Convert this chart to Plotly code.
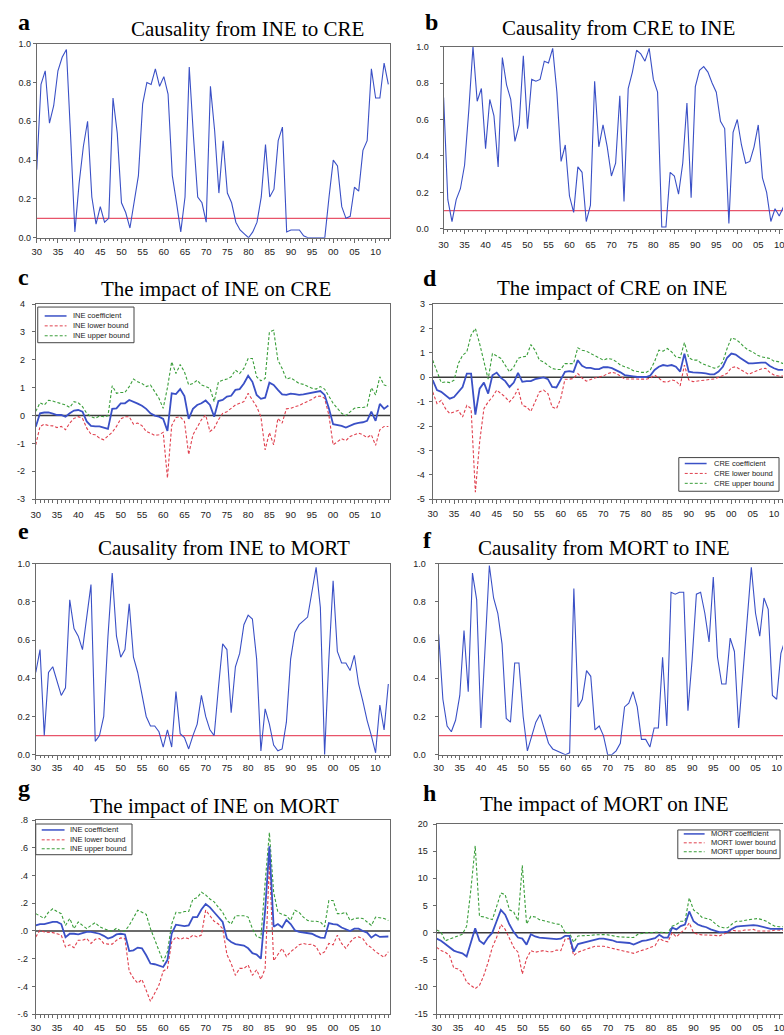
import plotly.graph_objects as go

W, H = 784, 1035

# ---------------- data ----------------
years = list(range(1930, 2014))
x_tick_vals = list(range(1930, 2011, 5))
x_tick_text = ["30", "35", "40", "45", "50", "55", "60", "65", "70", "75",
               "80", "85", "90", "95", "00", "05", "10"]

prob_tick_vals = [0.0, 0.2, 0.4, 0.6, 0.8, 1.0]
prob_tick_text = ["0.0", "0.2", "0.4", "0.6", "0.8", "1.0"]
c_tick_vals = [-3, -2, -1, 0, 1, 2, 3, 4]
c_tick_text = ["-3", "-2", "-1", "0", "1", "2", "3", "4"]
d_tick_vals = [-5, -4, -3, -2, -1, 0, 1, 2, 3]
d_tick_text = ["-5", "-4", "-3", "-2", "-1", "0", "1", "2", "3"]
g_tick_vals = [-0.6, -0.4, -0.2, 0.0, 0.2, 0.4, 0.6, 0.8]
g_tick_text = ["-.6", "-.4", "-.2", ".0", ".2", ".4", ".6", ".8"]
h_tick_vals = [-15, -10, -5, 0, 5, 10, 15, 20]
h_tick_text = ["-15", "-10", "-5", "0", "5", "10", "15", "20"]

significance_level = 0.1

# (a) causality INE -> CRE (p-values)
p_ine_to_cre = [
    0.35, 0.79, 0.86, 0.59, 0.68, 0.86, 0.93, 0.97, 0.52, 0.03,
    0.28, 0.47, 0.60, 0.21, 0.07, 0.16, 0.08, 0.10, 0.72, 0.54,
    0.18, 0.13, 0.05, 0.18, 0.32, 0.69, 0.80, 0.79, 0.87, 0.78,
    0.83, 0.74, 0.32, 0.18, 0.03, 0.21, 0.88, 0.52, 0.21, 0.18,
    0.08, 0.78, 0.55, 0.23, 0.50, 0.23, 0.18, 0.08, 0.04, 0.02,
    0.00, 0.03, 0.08, 0.21, 0.48, 0.21, 0.25, 0.50, 0.57, 0.03,
    0.04, 0.04, 0.04, 0.01, 0.00, 0.00, 0.00, 0.00, 0.00, 0.21,
    0.40, 0.37, 0.16, 0.10, 0.11, 0.26, 0.24, 0.45, 0.50, 0.87,
    0.72, 0.72, 0.90, 0.79]

# (b) causality CRE -> INE
p_cre_to_ine = [
    0.72, 0.16, 0.04, 0.16, 0.22, 0.35, 0.65, 1.00, 0.70, 0.77,
    0.44, 0.71, 0.62, 0.34, 0.94, 0.79, 0.71, 0.48, 0.57, 0.95,
    0.55, 0.82, 0.81, 0.82, 0.92, 0.91, 0.99, 0.75, 0.37, 0.46,
    0.18, 0.09, 0.34, 0.31, 0.04, 0.13, 0.81, 0.45, 0.57, 0.45,
    0.29, 0.36, 0.73, 0.15, 0.77, 0.86, 0.98, 0.96, 0.92, 0.99,
    0.82, 0.75, 0.01, 0.01, 0.31, 0.29, 0.19, 0.36, 0.69, 0.17,
    0.78, 0.87, 0.89, 0.86, 0.80, 0.75, 0.59, 0.55, 0.03, 0.53,
    0.60, 0.46, 0.36, 0.37, 0.45, 0.57, 0.28, 0.20, 0.04, 0.11,
    0.07, 0.12, 0.10, 0.10]

# (c) impact of INE on CRE
c_coef = [
    -0.40, 0.08, 0.11, 0.11, 0.07, 0.02, 0.02, -0.04, 0.08, 0.18,
    0.20, 0.14, -0.21, -0.37, -0.39, -0.39, -0.43, -0.48, 0.24, 0.26,
    0.44, 0.44, 0.56, 0.50, 0.43, 0.35, 0.24, 0.08, 0.00, -0.04,
    -0.12, -0.55, 0.80, 0.77, 0.95, 0.70, -0.12, 0.24, 0.38, 0.44,
    0.54, 0.38, -0.04, 0.52, 0.56, 0.68, 0.71, 0.92, 0.95, 1.15,
    1.43, 1.21, 0.74, 0.60, 0.64, 1.18, 1.10, 0.92, 0.76, 0.74,
    0.79, 0.77, 0.74, 0.76, 0.79, 0.81, 0.86, 0.88, 0.74, 0.26,
    -0.31, -0.33, -0.37, -0.43, -0.36, -0.30, -0.26, -0.24, -0.19, 0.14,
    -0.19, 0.42, 0.24, 0.36]
c_lower = [
    -1.05, -0.39, -0.31, -0.36, -0.37, -0.43, -0.39, -0.51, -0.27, -0.10,
    -0.04, -0.10, -0.45, -0.67, -0.69, -0.81, -0.87, -0.75, -0.60, -0.39,
    -0.12, -0.04, -0.04, -0.31, -0.27, -0.36, -0.57, -0.63, -0.71, -0.69,
    -0.60, -2.24, -0.36, -0.07, -0.04, -0.21, -1.40, -0.69, -0.39, -0.15,
    0.02, -0.57, -0.45, -0.15, 0.08, 0.14, 0.26, 0.38, 0.44, 0.50,
    0.80, 0.56, 0.32, -0.04, -1.23, -0.61, -1.05, -0.10, -0.27, 0.24,
    0.26, 0.32, 0.36, 0.44, 0.50, 0.58, 0.68, 0.70, 0.62, 0.02,
    -1.05, -0.93, -0.83, -0.90, -0.75, -0.69, -0.63, -0.69, -0.79, -0.69,
    -1.07, -0.51, -0.39, -0.39]
c_upper = [
    0.15, 0.46, 0.38, 0.55, 0.52, 0.48, 0.44, 0.38, 0.29, 0.50,
    0.46, 0.32, 0.08, -0.04, -0.10, -0.02, -0.04, -0.01, 1.07, 0.80,
    0.83, 0.83, 1.04, 1.31, 1.21, 1.15, 1.04, 1.10, 0.86, 0.62,
    0.26, 1.00, 1.93, 1.51, 1.83, 1.57, 1.10, 1.15, 1.27, 1.10,
    1.04, 0.98, 0.50, 1.21, 1.27, 1.31, 1.39, 1.63, 1.51, 1.69,
    2.05, 2.05, 1.39, 1.25, 1.33, 3.00, 3.06, 1.99, 1.69, 1.31,
    1.36, 1.26, 1.15, 1.12, 1.04, 0.98, 0.95, 1.04, 0.95, 0.68,
    0.44, 0.26, 0.08, 0.00, 0.14, 0.26, 0.29, 0.29, 0.32, 1.00,
    0.74, 1.39, 1.10, 1.04]

# (d) impact of CRE on INE
d_coef = [
    -0.12, -0.53, -0.60, -0.74, -0.88, -0.81, -0.58, -0.40, 0.15, 0.15,
    -1.53, -0.47, -0.22, -0.67, 0.08, 0.19, -0.03, -0.16, -0.40, -0.22,
    0.18, -0.19, -0.16, -0.16, -0.08, -0.03, -0.01, -0.08, -0.40, -0.42,
    -0.12, 0.22, 0.25, 0.22, 0.70, 0.47, 0.38, 0.38, 0.33, 0.33,
    0.41, 0.41, 0.37, 0.30, 0.20, 0.09, 0.05, 0.04, 0.01, 0.01,
    0.01, 0.07, 0.30, 0.43, 0.50, 0.47, 0.50, 0.43, 0.23, 0.97,
    0.23, 0.20, 0.20, 0.18, 0.16, 0.12, 0.12, 0.23, 0.43, 0.80,
    0.97, 0.93, 0.80, 0.70, 0.57, 0.57, 0.60, 0.60, 0.60, 0.46,
    0.37, 0.30, 0.30, 0.30]
d_lower = [
    -0.60, -1.08, -0.95, -1.29, -1.49, -1.42, -1.36, -1.63, -1.15, -1.29,
    -4.71, -2.66, -1.29, -1.01, -0.81, -0.53, -0.67, -0.81, -1.01, -0.81,
    -0.47, -1.15, -1.22, -1.40, -1.01, -0.60, -0.53, -0.67, -1.22, -1.29,
    -0.88, -0.08, -0.08, -0.05, 0.15, -0.03, -0.16, -0.08, -0.03, 0.01,
    0.05, 0.15, 0.20, 0.16, 0.03, -0.07, -0.07, -0.07, -0.08, -0.08,
    -0.08, -0.04, 0.09, -0.04, -0.18, -0.20, -0.11, -0.15, -0.35, 0.50,
    -0.11, -0.18, -0.15, -0.12, -0.11, -0.09, -0.07, -0.01, 0.07, 0.16,
    0.39, 0.43, 0.34, 0.23, 0.12, 0.20, 0.26, 0.34, 0.37, 0.20,
    0.09, 0.05, 0.05, 0.05]
d_upper = [
    0.70, 0.22, -0.22, -0.19, -0.22, -0.12, 0.56, 0.90, 1.04, 1.73,
    2.00, 1.38, 0.70, -0.08, 0.97, 0.86, 0.77, 0.49, 0.22, 0.42,
    0.77, 0.84, 0.86, 1.34, 1.11, 0.70, 0.63, 0.49, 0.36, 0.32,
    0.32, 0.56, 0.56, 0.56, 1.21, 1.11, 1.07, 0.97, 0.90, 0.77,
    0.70, 0.77, 0.74, 0.64, 0.50, 0.43, 0.37, 0.27, 0.23, 0.20,
    0.20, 0.30, 0.64, 1.11, 1.07, 1.18, 1.04, 0.84, 0.80, 1.42,
    0.80, 0.70, 0.70, 0.57, 0.50, 0.43, 0.37, 0.43, 0.64, 1.18,
    1.61, 1.56, 1.42, 1.24, 1.11, 1.04, 0.91, 0.84, 0.80, 0.77,
    0.66, 0.64, 0.57, 0.55]

# (e) causality INE -> MORT
p_ine_to_mort = [
    0.43, 0.55, 0.10, 0.43, 0.46, 0.39, 0.31, 0.35, 0.81, 0.66,
    0.62, 0.55, 0.72, 0.89, 0.07, 0.10, 0.20, 0.62, 0.95, 0.62,
    0.51, 0.55, 0.79, 0.51, 0.43, 0.31, 0.20, 0.15, 0.15, 0.12,
    0.04, 0.13, 0.04, 0.33, 0.11, 0.09, 0.03, 0.10, 0.16, 0.31,
    0.20, 0.13, 0.10, 0.35, 0.58, 0.55, 0.22, 0.46, 0.53, 0.68,
    0.73, 0.71, 0.50, 0.02, 0.24, 0.16, 0.05, 0.02, 0.03, 0.17,
    0.50, 0.64, 0.68, 0.70, 0.72, 0.85, 0.98, 0.77, 0.00, 0.50,
    0.91, 0.54, 0.48, 0.48, 0.44, 0.52, 0.37, 0.28, 0.18, 0.10,
    0.01, 0.26, 0.13, 0.37]

# (f) causality MORT -> INE
p_mort_to_ine = [
    0.63, 0.29, 0.15, 0.12, 0.18, 0.31, 0.65, 0.33, 0.95, 0.81,
    0.14, 0.58, 0.99, 0.82, 0.74, 0.58, 0.19, 0.17, 0.48, 0.48,
    0.20, 0.02, 0.10, 0.17, 0.21, 0.13, 0.06, 0.03, 0.02, 0.01,
    0.00, 0.01, 0.87, 0.25, 0.29, 0.44, 0.41, 0.13, 0.15, 0.10,
    0.00, 0.00, 0.02, 0.06, 0.25, 0.27, 0.33, 0.25, 0.08, 0.08,
    0.04, 0.14, 0.14, 0.51, 0.15, 0.85, 0.84, 0.85, 0.85, 0.23,
    0.50, 0.84, 0.85, 0.74, 0.59, 0.93, 0.51, 0.37, 0.37, 0.61,
    0.54, 0.14, 0.43, 0.72, 0.98, 0.74, 0.62, 0.82, 0.76, 0.31,
    0.29, 0.53, 0.60, 0.60]

# (g) impact of INE on MORT
g_coef = [
    0.04, 0.05, 0.05, 0.06, 0.065, 0.065, 0.05, -0.045, -0.02, -0.02,
    -0.025, -0.015, -0.007, -0.007, -0.015, -0.02, -0.035, -0.055, -0.045, -0.025,
    -0.02, -0.025, -0.145, -0.14, -0.12, -0.125, -0.175, -0.235, -0.24, -0.25,
    -0.26, -0.21, -0.02, 0.045, 0.04, 0.035, 0.04, 0.10, 0.10, 0.155,
    0.195, 0.17, 0.135, 0.10, 0.065, -0.055, -0.08, -0.095, -0.10, -0.105,
    -0.125, -0.16, -0.17, -0.20, 0.15, 0.61, 0.03, 0.05, 0.025, 0.08,
    0.05, 0.005, -0.007, -0.012, -0.015, -0.02, -0.035, -0.048, -0.05, 0.057,
    0.05, 0.045, 0.025, 0.01, 0.0, 0.017, 0.017, 0.0, -0.012, -0.048,
    -0.026, -0.043, -0.04, -0.04]
g_lower = [
    -0.043, 0.005, -0.007, -0.007, -0.012, -0.02, -0.03, -0.115, -0.10, -0.12,
    -0.067, -0.067, -0.055, -0.09, -0.06, -0.055, -0.09, -0.095, -0.095, -0.067,
    -0.05, -0.055, -0.29, -0.34, -0.376, -0.35, -0.435, -0.507, -0.45, -0.39,
    -0.29, -0.27, -0.08, -0.043, -0.062, -0.048, -0.055, -0.03, -0.043, -0.03,
    0.15, 0.11, 0.07, 0.05, 0.017, -0.17, -0.235, -0.32, -0.27, -0.27,
    -0.245, -0.32, -0.28, -0.35, -0.27, 0.49, -0.215, -0.17, -0.126, -0.185,
    -0.15, -0.126, -0.10, -0.09, -0.098, -0.095, -0.114, -0.17, -0.15, -0.09,
    -0.10, -0.03, -0.09, -0.126, -0.08, -0.05, -0.043, -0.055, -0.10, -0.12,
    -0.15, -0.17, -0.19, -0.15]
g_upper = [
    0.125, 0.11, 0.09, 0.135, 0.16, 0.14, 0.125, 0.04, 0.09, 0.017,
    0.065, 0.04, 0.017, 0.04, 0.06, 0.03, 0.017, 0.005, -0.002, 0.02,
    0.0, 0.0, 0.04, 0.09, 0.15, 0.135, 0.12, 0.017, -0.067, -0.15,
    -0.22, -0.15, 0.05, 0.135, 0.13, 0.14, 0.14, 0.23, 0.24, 0.28,
    0.26, 0.23, 0.21, 0.17, 0.135, 0.076, 0.05, 0.11, 0.11, 0.11,
    0.10, 0.017, -0.04, -0.05, 0.35, 0.71, 0.28, 0.135, 0.12, 0.11,
    0.076, 0.15, 0.135, 0.10, 0.076, 0.07, 0.07, 0.065, 0.03, 0.22,
    0.22, 0.125, 0.125, 0.135, 0.076, 0.09, 0.093, 0.09, 0.065, 0.04,
    0.10, 0.095, 0.09, 0.076]

# (h) impact of MORT on INE
h_coef = [
    -1.1, -1.5, -2.1, -2.7, -3.3, -3.6, -3.8, -4.4, -2.0, 0.8,
    -1.5, -2.1, -0.9, 0.0, 2.1, 4.2, 3.3, 1.5, 0.1, -0.9,
    -1.1, -2.2, -0.3, -0.7, -0.9, -1.0, -1.1, -1.2, -1.2, -1.1,
    -0.6, -0.6, -3.5, -2.1, -1.9, -1.6, -1.4, -1.2, -1.1, -1.1,
    -1.2, -1.4, -1.7, -1.8, -1.8, -1.9, -2.2, -1.8, -1.5, -1.4,
    -1.2, -1.0, -0.4, -0.9, -0.9, 0.9, 0.6, 1.2, 1.5, 3.9,
    2.1, 1.5, 1.2, 1.0, 0.6, 0.3, 0.1, 0.1, 0.2, 0.7,
    1.1, 1.2, 1.3, 1.4, 1.4, 1.3, 1.1, 0.9, 0.7, 0.7,
    0.7, 0.7, 0.7, 0.7]
h_lower = [
    -2.7, -3.3, -3.6, -4.2, -6.5, -6.7, -7.3, -9.1, -9.7, -10.3,
    -9.7, -7.9, -5.5, -2.7, -0.9, 1.5, 0.6, -1.2, -2.7, -3.6,
    -7.6, -4.8, -3.3, -3.6, -3.5, -3.3, -3.5, -3.5, -3.2, -3.3,
    -1.2, -1.1, -4.2, -3.6, -3.3, -3.0, -2.7, -2.5, -2.5, -2.5,
    -2.7, -2.9, -3.0, -3.3, -3.5, -3.6, -3.8, -3.5, -3.3, -3.0,
    -2.7, -2.4, -1.1, -1.5, -1.7, 0.0, -0.8, 0.0, 0.6, 1.8,
    0.0, -0.3, -0.4, -0.4, -0.5, -0.5, -0.6, -0.3, 0.0, 0.5,
    0.3, 0.3, 0.5, 0.5, 0.6, 0.3, 0.3, 0.3, 0.3, 0.5,
    0.5, 0.4, 0.4, 0.4]
h_upper = [
    0.5, 0.1, -1.5, -1.2, -0.9, -0.6, -0.3, 1.2, 8.0, 16.0,
    3.0, 2.9, 2.6, 2.4, 4.8, 7.3, 7.0, 4.2, 3.8, 2.2,
    12.4, 1.6, 3.0, 2.9, 2.4, 2.2, 1.9, 1.8, 1.6, 1.5,
    0.0, 0.0, -1.8, -0.6, -0.6, -0.6, -0.5, -0.4, -0.35, -0.35,
    -0.4, -0.6, -0.7, -0.8, -0.8, -0.8, -0.9, -0.3, -0.1, 0.0,
    0.0, 0.1, 0.1, 0.0, 0.0, 1.2, 1.5, 2.1, 2.1, 6.4,
    4.2, 3.6, 2.8, 2.6, 2.4, 1.7, 1.1, 0.9, 0.9, 1.6,
    2.1, 2.1, 2.3, 2.4, 2.5, 2.6, 2.4, 2.1, 1.6, 1.2,
    1.1, 1.1, 1.1, 1.1]

# ---------------- styling ----------------
BLUE = "#3a50c6"
RED = "#e0404e"
GREEN = "#3a9e3a"
THRESH = "#e8546a"
FRAME = "#6a6a6a"
TXT = "#222222"
SERIF = "Liberation Serif, Times New Roman, serif"
SANS = "Liberation Sans, Arial, sans-serif"

# panel geometry in pixels: (x0, x1, ytop, ybottom)
panels = [
    dict(letter="a", title="Causality from INE to CRE", box=(32, 388, 39, 235), xend=2013.4,
         kind="p", series=p_ine_to_cre, yr=[0, 1], tv=prob_tick_vals, tt=prob_tick_text,
         letter_xy=(19, 24), title_xy=(244, 31), standoff=0, xstand=1),
    dict(letter="b", title="Causality from CRE to INE", box=(442, 784, 42, 226), xend=2010.9,
         kind="p", series=p_cre_to_ine, yr=[0, 1], tv=prob_tick_vals, tt=prob_tick_text,
         letter_xy=(430, 24), title_xy=(618, 30), standoff=9, xstand=3),
    dict(letter="c", title="The impact of INE on CRE", box=(31, 388, 302, 499), xend=2013.4,
         kind="i", series=(c_coef, c_lower, c_upper), prefix="INE", yr=[-3, 4],
         tv=c_tick_vals, tt=c_tick_text, letter_xy=(19, 282), title_xy=(213, 293), standoff=5,
         xstand=2,
         legend=dict(box=(33, 305, 130, 341), rows=(314, 324, 334), sx=(40, 62), tx=67)),
    dict(letter="d", title="The impact of CRE on INE", box=(431, 784, 302, 499), xend=2012.1,
         kind="i", series=(d_coef, d_lower, d_upper), prefix="CRE", yr=[-5, 3],
         tv=d_tick_vals, tt=d_tick_text, letter_xy=(428, 283), title_xy=(612, 292), standoff=2,
         xstand=1,
         legend=dict(box=(679, 457, 780, 491), rows=(463, 473, 483), sx=(685, 707), tx=712)),
    dict(letter="e", title="Causality from INE to MORT", box=(31, 388, 564, 757), xend=2013.4,
         kind="p", series=p_ine_to_mort, yr=[0, 1], tv=prob_tick_vals, tt=prob_tick_text,
         letter_xy=(19, 538), title_xy=(221, 555), standoff=0, xstand=0),
    dict(letter="f", title="Causality from MORT to INE", box=(437, 784, 564, 757), xend=2011.5,
         kind="p", series=p_mort_to_ine, yr=[0, 1], tv=prob_tick_vals, tt=prob_tick_text,
         letter_xy=(426, 547), title_xy=(604, 555), standoff=7, xstand=0),
    dict(letter="g", title="The impact of INE on MORT", box=(31, 388, 823, 1019), xend=2013.4,
         kind="i", series=(g_coef, g_lower, g_upper), prefix="INE", yr=[-0.6, 0.8],
         tv=g_tick_vals, tt=g_tick_text, letter_xy=(19, 798), title_xy=(211, 815), standoff=2,
         xstand=0,
         legend=dict(box=(31, 827, 128, 858), rows=(833, 843, 852), sx=(37, 60), tx=63)),
    dict(letter="h", title="The impact of MORT on INE", box=(435, 784, 827, 1019), xend=2010.9,
         kind="i", series=(h_coef, h_lower, h_upper), prefix="MORT", yr=[-15, 20],
         tv=h_tick_vals, tt=h_tick_text, letter_xy=(428, 803), title_xy=(604, 813), standoff=3,
         xstand=0,
         legend=dict(box=(678, 833, 781, 862), rows=(837, 846, 855), sx=(684, 705), tx=709)),
]


def px_x(x):
    return x / W


def px_y(y):
    return 1 - y / H


fig = go.Figure()
layout = dict(width=W, height=H, margin=dict(l=0, r=0, t=0, b=0),
              paper_bgcolor="white", plot_bgcolor="white", showlegend=False)
shapes = []
annotations = []

for i, p in enumerate(panels):
    n = i + 1
    sfx = "" if n == 1 else str(n)
    xref, yref = "x" + sfx, "y" + sfx
    x0, x1, yt, yb = p["box"]
    right_col = x1 >= W
    layout["xaxis" + sfx] = dict(
        domain=[px_x(x0), px_x(x1)], range=[1930, p["xend"]], anchor=yref,
        tickmode="array", tickvals=x_tick_vals, ticktext=x_tick_text,
        ticks="outside", ticklen=4, tickwidth=1, tickcolor=FRAME,
        ticklabelstandoff=p["xstand"], ticklabeloverflow="allow",
        minor=dict(ticks="outside", ticklen=2.5, tickwidth=1, tickcolor=FRAME,
                   tickmode="linear", tick0=1930, dtick=1, showgrid=False),
        showline=True, linecolor=FRAME, linewidth=1, mirror=True,
        showgrid=False, zeroline=False,
        tickfont=dict(family=SANS, size=9.5, color=TXT))
    layout["yaxis" + sfx] = dict(
        domain=[px_y(yb), px_y(yt)], range=p["yr"], anchor=xref,
        tickmode="array", tickvals=p["tv"], ticktext=p["tt"],
        ticks="outside", ticklen=3, tickwidth=1, tickcolor=FRAME,
        ticklabelstandoff=p["standoff"], ticklabeloverflow="allow",
        showline=True, linecolor=FRAME, linewidth=1, mirror=not right_col,
        showgrid=False, zeroline=False,
        tickfont=dict(family=SANS, size=9, color=TXT))

    if p["kind"] == "p":
        shapes.append(dict(type="line", xref=xref + " domain", yref=yref,
                           x0=0, x1=1, y0=significance_level, y1=significance_level,
                           line=dict(color=THRESH, width=1.2), layer="below"))
        fig.add_trace(go.Scatter(x=years, y=p["series"], mode="lines",
                                 line=dict(color=BLUE, width=1.1),
                                 xaxis=xref, yaxis=yref, name=p["title"]))
    else:
        coef, lower, upper = p["series"]
        shapes.append(dict(type="line", xref=xref + " domain", yref=yref,
                           x0=0, x1=1, y0=0, y1=0,
                           line=dict(color="#3a3a3a", width=1.5), layer="below"))
        fig.add_trace(go.Scatter(x=years, y=upper, mode="lines",
                                 line=dict(color=GREEN, width=1.1, dash="3px,2px"),
                                 xaxis=xref, yaxis=yref, name=p["prefix"] + " upper bound"))
        fig.add_trace(go.Scatter(x=years, y=lower, mode="lines",
                                 line=dict(color=RED, width=1.1, dash="3px,2px"),
                                 xaxis=xref, yaxis=yref, name=p["prefix"] + " lower bound"))
        fig.add_trace(go.Scatter(x=years, y=coef, mode="lines",
                                 line=dict(color=BLUE, width=1.8),
                                 xaxis=xref, yaxis=yref, name=p["prefix"] + " coefficient"))
        # legend box (EViews style, inside the plot)
        lg = p["legend"]
        bx0, by0, bx1, by1 = lg["box"]
        shapes.append(dict(type="rect", xref="paper", yref="paper",
                           x0=px_x(bx0), x1=px_x(bx1), y0=px_y(by1), y1=px_y(by0),
                           fillcolor="white", line=dict(color="#444444", width=1),
                           layer="above"))
        entries = [(p["prefix"] + " coefficient", BLUE, "solid", 1.5),
                   (p["prefix"] + " lower bound", RED, "3px,2px", 1),
                   (p["prefix"] + " upper bound", GREEN, "3px,2px", 1)]
        for (label, col, dash, wd), ry in zip(entries, lg["rows"]):
            shapes.append(dict(type="line", xref="paper", yref="paper",
                               x0=px_x(lg["sx"][0]), x1=px_x(lg["sx"][1]),
                               y0=px_y(ry), y1=px_y(ry),
                               line=dict(color=col, width=wd, dash=dash), layer="above"))
            annotations.append(dict(text=label, xref="paper", yref="paper",
                                    x=px_x(lg["tx"]), y=px_y(ry), xanchor="left",
                                    yanchor="middle", showarrow=False,
                                    font=dict(family=SANS, size=7.5, color=TXT)))

    # panel letter
    lx, ly = p["letter_xy"]
    annotations.append(dict(text="<b>" + p["letter"] + "</b>", xref="paper", yref="paper",
                            x=px_x(lx), y=px_y(ly - 0.3 * 24), xanchor="center",
                            yanchor="middle", showarrow=False,
                            font=dict(family=SERIF, size=24, color="black")))
    # panel title
    tx, ty = p["title_xy"]
    annotations.append(dict(text=p["title"], xref="paper", yref="paper",
                            x=px_x(tx), y=px_y(ty - 0.3 * 21), xanchor="center",
                            yanchor="middle", showarrow=False,
                            font=dict(family=SERIF, size=21, color="black")))

layout["shapes"] = shapes
layout["annotations"] = annotations
fig.update_layout(**layout)
fig.write_html("out.html")
